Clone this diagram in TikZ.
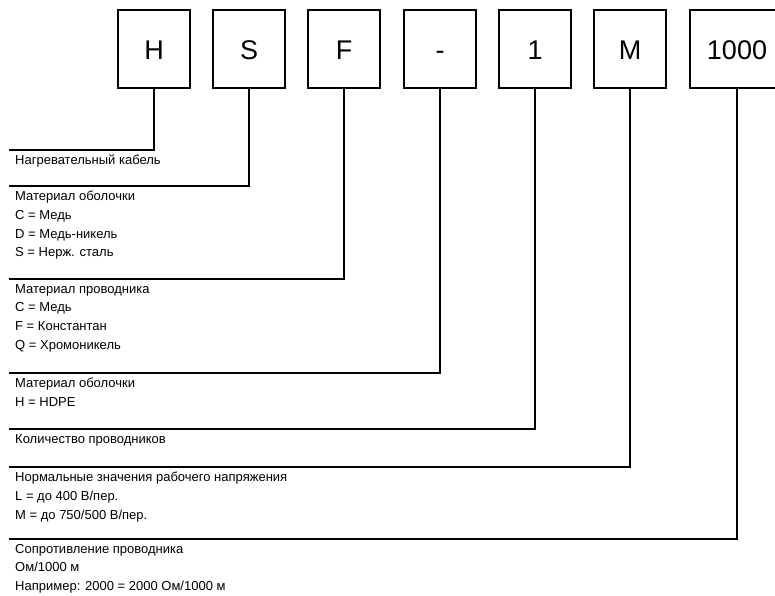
\documentclass[tikz,border=0pt]{standalone}
\usepackage{fontspec}
\setmainfont{Liberation Sans}
\usetikzlibrary{positioning}
\tikzset{
  codebox/.style={draw, line width=2pt, minimum width=72pt, minimum height=78pt, inner sep=0pt, text height=20pt, text depth=0pt, font=\fontsize{27}{30}\selectfont},
  lead/.style={line width=1.3pt},
  legend/.style={anchor=north west, inner sep=0pt, align=left, font=\fontsize{13}{18.7}\selectfont}
}

\begin{document}
\begin{tikzpicture}[line cap=rect,line join=miter,x=1pt,y=-1pt]
\useasboundingbox (0,0) rectangle (775,595);
\clip (0,0) rectangle (775,595);
% code boxes
\foreach \n/\x/\t in {h/154/H,s/249/S,f/344/F,d/440/-,c/535/1,v/630/M}
  \node[codebox] (\n) at (\x,49) {\t};
\node[codebox, minimum width=94pt] (r) at (737,49) {1000};
% left ends of the leads
\coordinate (hl) at (10,150);
\coordinate (sl) at (10,186);
\coordinate (fl) at (10,279);
\coordinate (dl) at (10,373);
\coordinate (cl) at (10,429);
\coordinate (vl) at (10,467);
\coordinate (rl) at (10,539);
\draw[lead] (h.south) |- (hl);
\draw[lead] (s.south) |- (sl);
\draw[lead] (f.south) |- (fl);
\draw[lead] (d.south) |- (dl);
\draw[lead] (c.south) |- (cl);
\draw[lead] (v.south) |- (vl);
\draw[lead] (r.south) |- (rl);
% legend texts
\node[legend] (th) at (15,155) {Нагревательный кабель};
\node[legend] (ts) at (15,191) {Материал оболочки\\C = Медь\\D = Медь-никель\\S = Нерж. сталь};
\node[legend] (tf) at (15,284) {Материал проводника\\C = Медь\\F = Константан\\Q = Хромоникель};
\node[legend] (td) at (15,378) {Материал оболочки\\H = HDPE};
\node[legend] (tc) at (15,434) {Количество проводников};
\node[legend] (tv) at (15,472) {Нормальные значения рабочего напряжения\\L = до 400 В/пер.\\M = до 750/500 В/пер.};
\node[legend] (tr) at (15,544) {Сопротивление проводника\\Ом/1000 м\\Например: 2000 = 2000 Ом/1000 м};
\end{tikzpicture}
\end{document}
